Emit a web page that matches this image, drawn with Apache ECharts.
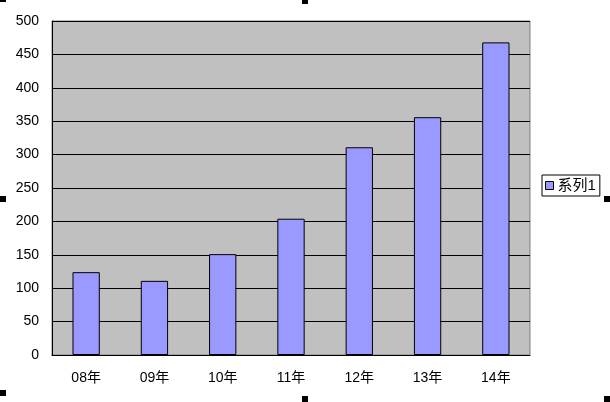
<!DOCTYPE html>
<html><head><meta charset="utf-8">
<script src="https://cdn.jsdelivr.net/npm/echarts@6/dist/echarts.min.js"></script>
<style>html,body{margin:0;padding:0;background:#fff}#c{width:610px;height:402px}</style>
</head><body><div id="c"></div>
<script>
const categories = ['08年','09年','10年','11年','12年','13年','14年'];
const seriesName = '系列1';
const values = [124, 111, 151, 204, 311, 356, 468];
const yTicks = [0, 50, 100, 150, 200, 250, 300, 350, 400, 450, 500];

const font = '"Liberation Sans","Noto Sans CJK SC",sans-serif';
const chart = echarts.init(document.getElementById('c'));
const handles = [[0,0,6,2],[302,0,6,4],[0,196,6,6],[604,196,6,6],[0,390,6,6],[302,396,6,6],[604,396,6,6]];
chart.setOption({
  animation: false,
  backgroundColor: '#fff',
  textStyle: { fontFamily: font },
  grid: { left: 52, top: 21, right: 80, bottom: 47, show: true, backgroundColor: '#C0C0C0', borderColor: '#808080', borderWidth: 1 },
  legend: {
    data: [seriesName], left: 542, top: 175, orient: 'vertical',
    borderColor: '#000', borderWidth: 1, padding: [3, 4, 3, 3],
    itemWidth: 8, itemHeight: 8, itemGap: 0, icon: 'rect',
    textStyle: { fontSize: 15, color: '#000', fontFamily: font, padding: [0, 0, 0, -1] },
    itemStyle: { borderColor: '#000', borderWidth: 1 }
  },
  xAxis: {
    type: 'category', data: categories,
    axisLine: { lineStyle: { color: '#000', width: 1 } },
    axisTick: { inside: true, length: 4, lineStyle: { color: '#000' } },
    axisLabel: { color: '#000', fontSize: 14, margin: 16, fontFamily: font }
  },
  yAxis: {
    type: 'value', min: yTicks[0], max: yTicks[yTicks.length-1], interval: 50,
    axisLine: { show: true, lineStyle: { color: '#000', width: 1 } },
    axisTick: { show: true, inside: true, length: 4, lineStyle: { color: '#000' } },
    axisLabel: { color: '#000', fontSize: 14, margin: 13, fontFamily: font },
    splitLine: { lineStyle: { color: '#000', width: 1 } }
  },
  series: [{
    name: seriesName, type: 'bar', data: values, barWidth: '40%',
    itemStyle: { color: '#9999FF', borderColor: '#000', borderWidth: 1 }
  }],
  graphic: handles.map(h => ({ type: 'rect', shape: { x: h[0], y: h[1], width: h[2], height: h[3] }, style: { fill: '#000' }, silent: true }))
});
</script></body></html>
